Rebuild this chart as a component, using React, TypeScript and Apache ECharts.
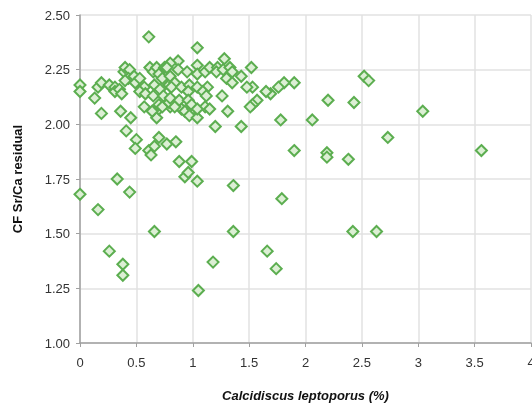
import React, { useEffect, useRef } from "react";
import * as echarts from "echarts";

const xTicks = [0, 0.5, 1, 1.5, 2, 2.5, 3, 3.5, 4];
const yTicks = [1.0, 1.25, 1.5, 1.75, 2.0, 2.25, 2.5];

const xTitle = "Calcidiscus leptoporus (%)";
const yTitle = "CF Sr/Ca residual";

// Calcidiscus leptoporus (%) values
const sparseX = [0, 0.16, 0.33, 0.44, 0.26, 0.38, 0.38, 0.66, 0.93, 0.96, 1.04, 1.36, 1.36, 1.18, 1.05, 1.66, 1.74, 1.79, 2.42, 2.63,
  1.90, 2.19, 2.19, 2.38, 3.56, 2.73, 3.04, 2.43, 2.20, 2.06, 1.78, 2.52, 2.56, 1.90, 1.81, 1.76, 1.69, 1.65, 1.57, 1.53, 1.53, 1.52, 1.51, 1.48, 1.43];
const sparseY = [1.68, 1.61, 1.75, 1.69, 1.42, 1.36, 1.31, 1.51, 1.76, 1.78, 1.74, 1.72, 1.51, 1.37, 1.24, 1.42, 1.34, 1.66, 1.51, 1.51,
  1.88, 1.87, 1.85, 1.84, 1.88, 1.94, 2.06, 2.10, 2.11, 2.02, 2.02, 2.22, 2.20, 2.19, 2.19, 2.17, 2.14, 2.15, 2.11, 2.09, 2.17, 2.26, 2.08, 2.17, 2.22];

const midX = [0.88, 0.99, 0.77, 0.85, 1.20, 1.43, 0.19, 0.36, 0.45, 0.41, 0.50, 0.49, 0.61, 0.63, 0.66, 0.70, 0.68, 0.70, 0.70, 0.80,
  0.90, 0.93, 1.00, 0.97, 1.04, 1.11, 1.15, 1.31];
const midY = [1.83, 1.83, 1.91, 1.92, 1.99, 1.99, 2.05, 2.06, 2.03, 1.97, 1.93, 1.89, 1.88, 1.86, 1.90, 1.94, 2.03, 2.07, 2.09, 2.08,
  2.07, 2.06, 2.07, 2.04, 2.03, 2.08, 2.07, 2.06];

const leftClusterX = [0.61, 0, 0, 0.13, 0.16, 0.19, 0.26, 0.31, 0.31, 0.35, 0.37, 0.39, 0.40, 0.44, 0.43, 0.40, 0.48, 0.49, 0.53, 0.57,
  0.53, 0.58, 0.62, 0.65, 0.68, 0.70, 0.73, 0.75, 0.66, 0.71, 0.65, 0.74, 0.79, 0.57, 0.64, 0.73, 0.79];
const leftClusterY = [2.40, 2.18, 2.15, 2.12, 2.17, 2.19, 2.18, 2.17, 2.15, 2.16, 2.14, 2.24, 2.26, 2.25, 2.21, 2.20, 2.22, 2.19, 2.21, 2.17,
  2.15, 2.14, 2.26, 2.24, 2.26, 2.23, 2.21, 2.26, 2.18, 2.16, 2.13, 2.13, 2.18, 2.08, 2.06, 2.08, 2.10];

const rightClusterX = [1.04, 1.28, 0.87, 0.80, 0.77, 0.80, 0.87, 0.95, 1.04, 1.04, 1.11, 1.15, 1.22, 1.21, 1.27, 1.33, 1.35, 1.30, 1.35,
  0.84, 0.81, 0.90, 0.97, 0.96, 1.04, 1.13, 1.09, 1.12, 1.26, 0.80, 0.88, 0.96, 0.84, 0.99, 1.04];
const rightClusterY = [2.35, 2.30, 2.29, 2.28, 2.26, 2.22, 2.25, 2.24, 2.27, 2.23, 2.24, 2.26, 2.26, 2.24, 2.25, 2.26, 2.24, 2.21, 2.19,
  2.19, 2.17, 2.17, 2.18, 2.15, 2.17, 2.17, 2.15, 2.13, 2.13, 2.12, 2.11, 2.11, 2.08, 2.09, 2.07];

export default function App() {
  const ref = useRef<HTMLDivElement>(null);
  useEffect(() => {
    if (!ref.current) return;
    const chart = echarts.init(ref.current, undefined, { renderer: "svg" });
    const xs = [...sparseX, ...midX, ...leftClusterX, ...rightClusterX];
    const ys = [...sparseY, ...midY, ...leftClusterY, ...rightClusterY];
    const data = xs.map((x, i) => [x, ys[i]]);
    const font = "'Liberation Sans', Arial, sans-serif";
    chart.setOption({
      animation: false,
      grid: { left: 80, top: 15, width: 451, height: 333 },
      xAxis: {
        type: "value",
        min: xTicks[0],
        max: xTicks[xTicks.length - 1],
        interval: 0.5,
        name: xTitle,
        nameLocation: "middle",
        nameGap: 46,
        nameTextStyle: { fontFamily: font, fontSize: 13, fontWeight: "bold", fontStyle: "italic", color: "#111" },
        axisLine: { show: true, lineStyle: { color: "#a0a0a0", width: 1.5 } },
        axisTick: { show: true, length: 4, lineStyle: { color: "#a0a0a0" } },
        axisLabel: { fontFamily: font, fontSize: 13, color: "#333", margin: 13 },
        splitLine: { show: true, lineStyle: { color: "#e2e2e2", width: 1.5 } },
      },
      yAxis: {
        type: "value",
        min: yTicks[0],
        max: yTicks[yTicks.length - 1],
        interval: 0.25,
        name: yTitle,
        nameLocation: "middle",
        nameGap: 56,
        nameTextStyle: { fontFamily: font, fontSize: 13, fontWeight: "bold", color: "#111" },
        axisLine: { show: true, lineStyle: { color: "#a0a0a0", width: 1.5 } },
        axisTick: { show: true, length: 4, lineStyle: { color: "#a0a0a0" } },
        axisLabel: { fontFamily: font, fontSize: 13, color: "#333", margin: 10, formatter: (v: number) => v.toFixed(2) },
        splitLine: { show: true, lineStyle: { color: "#e2e2e2", width: 1.5 } },
      },
      series: [
        {
          type: "scatter",
          symbol: "diamond",
          symbolSize: 11,
          data,
          itemStyle: { color: "#dcefd4", borderColor: "#5cae50", borderWidth: 2, opacity: 1 },
        },
      ],
    });
    return () => chart.dispose();
  }, []);
  return (
    <div style={{ position: "fixed", left: 0, top: 0, width: 532, height: 407, overflow: "hidden" }}>
      <div ref={ref} style={{ width: 538, height: 407 }} />
    </div>
  );
}
